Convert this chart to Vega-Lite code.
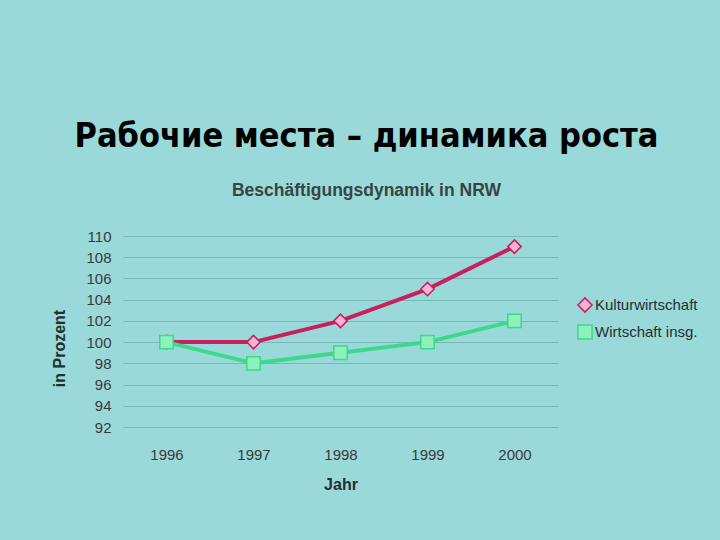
{
  "$schema": "https://vega.github.io/schema/vega-lite/v6.json",
  "width": 435,
  "height": 191,
  "autosize": {"type": "none"},
  "padding": {"left": 123, "top": 236, "right": 162, "bottom": 113},
  "background": "#9ad9d9",
  "title": {
    "text": "Рабочие места – динамика роста",
    "subtitle": "Beschäftigungsdynamik in NRW",
    "anchor": "middle",
    "frame": "group",
    "dx": 26,
    "offset": 30,
    "font": "DejaVu Sans Condensed, DejaVu Sans",
    "fontSize": 34,
    "fontWeight": "bold",
    "color": "#000000",
    "subtitleFont": "Liberation Sans",
    "subtitleFontSize": 17.5,
    "subtitleFontWeight": "bold",
    "subtitleColor": "#384444",
    "subtitlePadding": 28
  },
  "data": {
    "values": [
      {"year": "1996", "series": "Kulturwirtschaft", "value": 100},
      {"year": "1997", "series": "Kulturwirtschaft", "value": 100},
      {"year": "1998", "series": "Kulturwirtschaft", "value": 102},
      {"year": "1999", "series": "Kulturwirtschaft", "value": 105},
      {"year": "2000", "series": "Kulturwirtschaft", "value": 109},
      {"year": "1996", "series": "Wirtschaft insg.", "value": 100},
      {"year": "1997", "series": "Wirtschaft insg.", "value": 98},
      {"year": "1998", "series": "Wirtschaft insg.", "value": 99},
      {"year": "1999", "series": "Wirtschaft insg.", "value": 100},
      {"year": "2000", "series": "Wirtschaft insg.", "value": 102}
    ]
  },
  "config": {
    "view": {"stroke": null},
    "axis": {
      "labelFont": "Liberation Sans",
      "labelFontSize": 15,
      "labelColor": "#3a3a3a",
      "titleFont": "Liberation Sans",
      "titleFontSize": 16,
      "titleFontWeight": "bold",
      "titleColor": "#243030",
      "domain": false,
      "ticks": false
    },
    "legend": {
      "title": null,
      "orient": "none",
      "legendX": 454,
      "legendY": 61,
      "labelFont": "Liberation Sans",
      "labelFontSize": 15,
      "labelColor": "#243030",
      "labelOffset": 2,
      "rowPadding": 5,
      "symbolSize": 200,
      "symbolStrokeWidth": 1.5
    }
  },
  "encoding": {
    "x": {
      "field": "year",
      "type": "ordinal",
      "title": "Jahr",
      "scale": {"type": "point", "padding": 0.5},
      "axis": {"labelAngle": 0, "labelPadding": 20, "titlePadding": 14, "grid": false}
    },
    "y": {
      "field": "value",
      "type": "quantitative",
      "title": "in Prozent",
      "scale": {"domain": [92, 110], "nice": false, "zero": false},
      "axis": {
        "values": [92, 94, 96, 98, 100, 102, 104, 106, 108, 110],
        "labelPadding": 12,
        "titlePadding": 18,
        "titleY": 112,
        "gridColor": "#78b8b8",
        "gridWidth": 1
      }
    }
  },
  "layer": [
    {
      "mark": {"type": "line", "strokeWidth": 4},
      "encoding": {
        "stroke": {
          "field": "series",
          "type": "nominal",
          "scale": {"domain": ["Kulturwirtschaft", "Wirtschaft insg."], "range": ["#c8205e", "#3cd98a"]}
        }
      }
    },
    {
      "mark": {"type": "point", "filled": true, "opacity": 1, "strokeWidth": 1.5},
      "encoding": {
        "stroke": {"field": "series", "type": "nominal"},
        "fill": {
          "field": "series",
          "type": "nominal",
          "scale": {"domain": ["Kulturwirtschaft", "Wirtschaft insg."], "range": ["#f2b4d2", "#8ff0bc"]}
        },
        "size": {"value": 180},
        "shape": {
          "field": "series",
          "type": "nominal",
          "scale": {"domain": ["Kulturwirtschaft", "Wirtschaft insg."], "range": ["diamond", "square"]}
        }
      }
    }
  ]
}
